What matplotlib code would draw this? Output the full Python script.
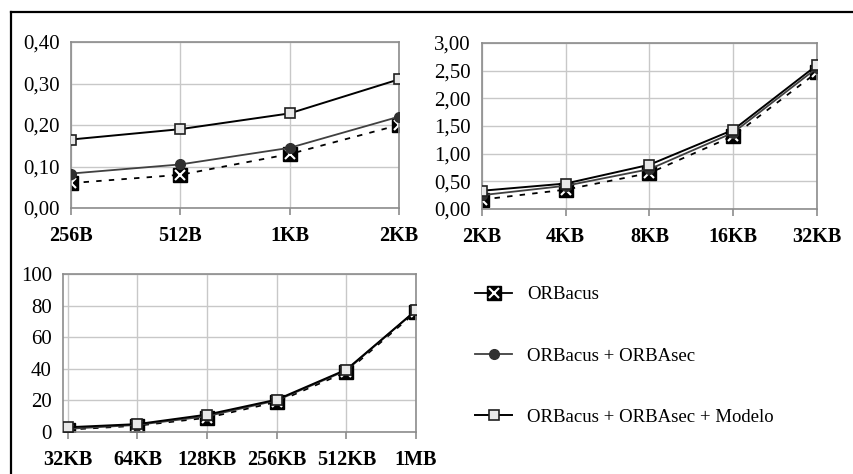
import numpy as np
import matplotlib
matplotlib.use('Agg')
import matplotlib.pyplot as plt
from matplotlib.lines import Line2D
from matplotlib.legend_handler import HandlerTuple

plt.rcParams['font.family'] = 'Liberation Serif'

# Data
labels_a = ['256B', '512B', '1KB', '2KB']
orbacus_a = [0.06, 0.08, 0.13, 0.20]
orbasec_a = [0.083, 0.105, 0.145, 0.22]
modelo_a = [0.165, 0.19, 0.228, 0.31]
yticks_a = [0.0, 0.1, 0.2, 0.3, 0.4]
ytick_labels_a = ['0,00', '0,10', '0,20', '0,30', '0,40']

labels_b = ['2KB', '4KB', '8KB', '16KB', '32KB']
orbacus_b = [0.17, 0.35, 0.65, 1.32, 2.47]
orbasec_b = [0.25, 0.42, 0.72, 1.38, 2.55]
modelo_b = [0.33, 0.46, 0.80, 1.43, 2.60]
yticks_b = [0.0, 0.5, 1.0, 1.5, 2.0, 2.5, 3.0]
ytick_labels_b = ['0,00', '0,50', '1,00', '1,50', '2,00', '2,50', '3,00']

labels_c = ['32KB', '64KB', '128KB', '256KB', '512KB', '1MB']
orbacus_c = [1.5, 4, 9, 19, 38, 76]
orbasec_c = [2, 4.5, 10, 20, 39, 77]
modelo_c = [3, 5, 11, 20.5, 39.5, 77]
yticks_c = [0, 20, 40, 60, 80, 100]
ytick_labels_c = ['0', '20', '40', '60', '80', '100']

series_names = ['ORBacus', 'ORBacus + ORBAsec', 'ORBacus + ORBAsec + Modelo']

W, H = 854, 474
fig = plt.figure(figsize=(W / 100, H / 100), dpi=100)


def px_axes(x0, y0, x1, y1):
    return fig.add_axes([x0 / W, 1 - y1 / H, (x1 - x0) / W, (y1 - y0) / H])


def draw_panel(ax, labels, orb, sec, mod, yticks, ytl, xlim):
    x = np.arange(len(labels))
    ax.plot(x, sec, color='#404040', lw=1.3, marker='o', ms=7,
            mfc='#303030', mec='#303030', zorder=3)
    ax.plot(x, mod, color='black', lw=1.4, marker='s', ms=7.5,
            mfc='#e8e8e8', mec='#202020', mew=1.2, zorder=4)
    ax.plot(x, orb, color='black', lw=1.3, ls=(0, (3, 4)), marker='s', ms=10,
            mfc='black', mec='black', zorder=2)
    ax.plot(x, orb, ls='none', marker='x', ms=7, mec='white', mew=1.5, zorder=2.5)
    ax.set_xlim(*xlim)
    ax.set_ylim(yticks[0], yticks[-1])
    ax.set_xticks(x)
    ax.set_xticklabels(labels, fontweight='bold', fontsize=14.5)
    ax.set_yticks(yticks)
    ax.set_yticklabels(ytl, fontsize=15)
    ax.grid(True, color='#c8c8c8', lw=1)
    ax.set_axisbelow(True)
    for s in ax.spines.values():
        s.set_color('#8c8c8c')
        s.set_linewidth(1.2)
    ax.tick_params(axis='x', length=5, color='#8c8c8c', width=1.2, pad=8)
    ax.tick_params(axis='y', length=0, pad=8)


ax1 = px_axes(71, 42, 399, 208)
draw_panel(ax1, labels_a, orbacus_a, orbasec_a, modelo_a, yticks_a, ytick_labels_a, (0, 3))

ax2 = px_axes(482, 43, 817, 209)
draw_panel(ax2, labels_b, orbacus_b, orbasec_b, modelo_b, yticks_b, ytick_labels_b, (0, 4))

ax3 = px_axes(63, 274, 416, 432)
draw_panel(ax3, labels_c, orbacus_c, orbasec_c, modelo_c, yticks_c, ytick_labels_c, (-0.07, 5))

# legend
h_orb = (Line2D([], [], color='black', lw=1.3, marker='s', ms=10, mfc='black', mec='black'),
         Line2D([], [], ls='none', marker='x', ms=7, mec='white', mew=1.5))
h_sec = Line2D([], [], color='#404040', lw=1.3, marker='o', ms=7, mfc='#303030', mec='#303030')
h_mod = Line2D([], [], color='black', lw=1.4, marker='s', ms=7.5, mfc='#e8e8e8', mec='#202020', mew=1.2)
fig.legend([h_orb, h_sec, h_mod], series_names,
           handler_map={tuple: HandlerTuple(ndivide=1, pad=0)},
           loc='center left', bbox_to_anchor=(475 / W, 1 - 356 / H),
           frameon=False, fontsize=13.5, handlelength=2.0, handletextpad=0.8,
           labelspacing=2.35, borderpad=0, borderaxespad=0)

# outer frame (top and left edges)
fig.add_artist(Line2D([11 / W, 1], [1 - 12 / H, 1 - 12 / H], color='black', lw=1.6,
                      transform=fig.transFigure))
fig.add_artist(Line2D([11 / W, 11 / W], [0, 1 - 12 / H], color='black', lw=1.6,
                      transform=fig.transFigure))

fig.savefig('out.png', dpi=100)
